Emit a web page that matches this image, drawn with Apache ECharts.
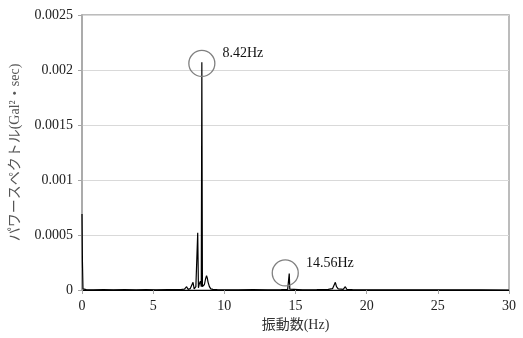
<!DOCTYPE html>
<html>
<head>
<meta charset="utf-8">
<script src="https://cdn.jsdelivr.net/npm/echarts@6/dist/echarts.min.js"></script>
<style>html,body{margin:0;padding:0;background:#fff;}#c{width:523px;height:338px;}</style>
</head>
<body>
<div id="c"></div>
<script>
// Frequencies (Hz) and power spectrum values (Gal^2·sec)
var freqs = [0, 0.03, 0.07, 0.3, 0.8, 1.5, 2.2, 3.0, 3.8, 4.5, 5.2, 6.0, 6.6, 7.0, 7.2, 7.35, 7.45, 7.6, 7.72, 7.8, 7.88, 8.0, 8.08, 8.13, 8.18, 8.25, 8.32, 8.38, 8.42, 8.46, 8.52, 8.6, 8.68, 8.75, 8.8, 8.86, 8.95, 9.05, 9.2, 9.5, 10.0, 11.0, 12.0, 13.0, 14.0, 14.45, 14.53, 14.56, 14.6, 14.7, 15.5, 16.5, 17.3, 17.6, 17.72, 17.8, 17.88, 18.0, 18.1, 18.2, 18.35, 18.5, 18.6, 18.8, 18.9, 19.0, 19.5, 20.5, 22, 24, 26, 28, 30];
var power = [0.00069, 0.00026, 0.00001, 0.000003, 0.000002, 0.000004, 0.000002, 0.000003, 0.000002, 0.000003, 0.000002, 0.000004, 0.000003, 0.000005, 0.000008, 0.00003, 0.000006, 0.000012, 0.00002, 0.00007, 0.00001, 0.00003, 0.00002, 0.00052, 0.00002, 0.00006, 0.00008, 0.00003, 0.00207, 0.00003, 0.00004, 0.00005, 0.0001, 0.00013, 0.00011, 0.00007, 0.00003, 0.00001, 0.000005, 0.000003, 0.000002, 0.000002, 0.000003, 0.000002, 0.000003, 0.000006, 0.00001, 0.00015, 0.000008, 0.000003, 0.000002, 0.000003, 0.000005, 0.000012, 0.00003, 0.00007, 0.00003, 0.00001, 0.00002, 0.000008, 0.000006, 0.00003, 0.000006, 0.000004, 0.00002, 0.000003, 0.000002, 0.000001, 0.000001, 0.000001, 0.000001, 0.000001, 0];
// Annotated peaks
var peakLabels = ['8.42Hz', '14.56Hz'];
var peakCircles = [[8.42, 0.00206], [14.28, 0.000155]];
var xTicks = [0, 5, 10, 15, 20, 25, 30];
var yTicks = [0, 0.0005, 0.001, 0.0015, 0.002, 0.0025];

var lineData = freqs.map(function (f, i) { return [f, power[i]]; });
var circleData = peakCircles.map(function (p, i) {
  return { value: p, label: { formatter: peakLabels[i] } };
});

var font = "'Liberation Serif', 'Noto Sans CJK JP', serif";
var chart = echarts.init(document.getElementById('c'), null, { renderer: 'canvas' });
chart.setOption({
  animation: false,
  backgroundColor: '#fff',
  grid: { left: 82, right: 14, top: 15, bottom: 48, show: true, borderColor: '#a6a6a6', borderWidth: 1.5 },
  xAxis: {
    type: 'value', min: 0, max: 30, interval: 5,
    name: '振動数(Hz)', nameLocation: 'middle', nameGap: 28,
    nameTextStyle: { fontFamily: font, fontSize: 14, color: '#333' },
    axisLine: { show: true, onZero: false, lineStyle: { color: '#000', width: 1.2 } },
    axisTick: { show: true, length: 4, lineStyle: { color: '#a6a6a6' } },
    axisLabel: { fontFamily: font, fontSize: 14, color: '#222', margin: 9 },
    splitLine: { show: false }
  },
  yAxis: {
    type: 'value', min: 0, max: 0.0025, interval: 0.0005,
    name: 'パワースペクトル(Gal²・sec)', nameLocation: 'middle', nameGap: 60,
    nameTextStyle: { fontFamily: font, fontSize: 14, color: '#555' },
    axisLine: { show: true, lineStyle: { color: '#a6a6a6', width: 1.5 } },
    axisTick: { show: true, length: 4, lineStyle: { color: '#a6a6a6' } },
    axisLabel: { fontFamily: font, fontSize: 14, color: '#222', margin: 9,
      formatter: function (v) { return String(+v.toFixed(4)); } },
    splitLine: { show: true, lineStyle: { color: '#d9d9d9', width: 1 } }
  },
  series: [
    {
      type: 'line', data: lineData, showSymbol: false, symbol: 'none',
      lineStyle: { color: '#000', width: 1.2 }, z: 3
    },
    {
      type: 'scatter', data: circleData, symbol: 'circle', symbolSize: 26,
      itemStyle: { color: 'rgba(0,0,0,0)', borderColor: '#808080', borderWidth: 1.3, opacity: 1 },
      label: { show: true, position: 'right', distance: 5, offset: [2, -10],
        fontFamily: font, fontSize: 14, color: '#111', opacity: 1 },
      z: 4, silent: true
    }
  ]
});
</script>
</body>
</html>
